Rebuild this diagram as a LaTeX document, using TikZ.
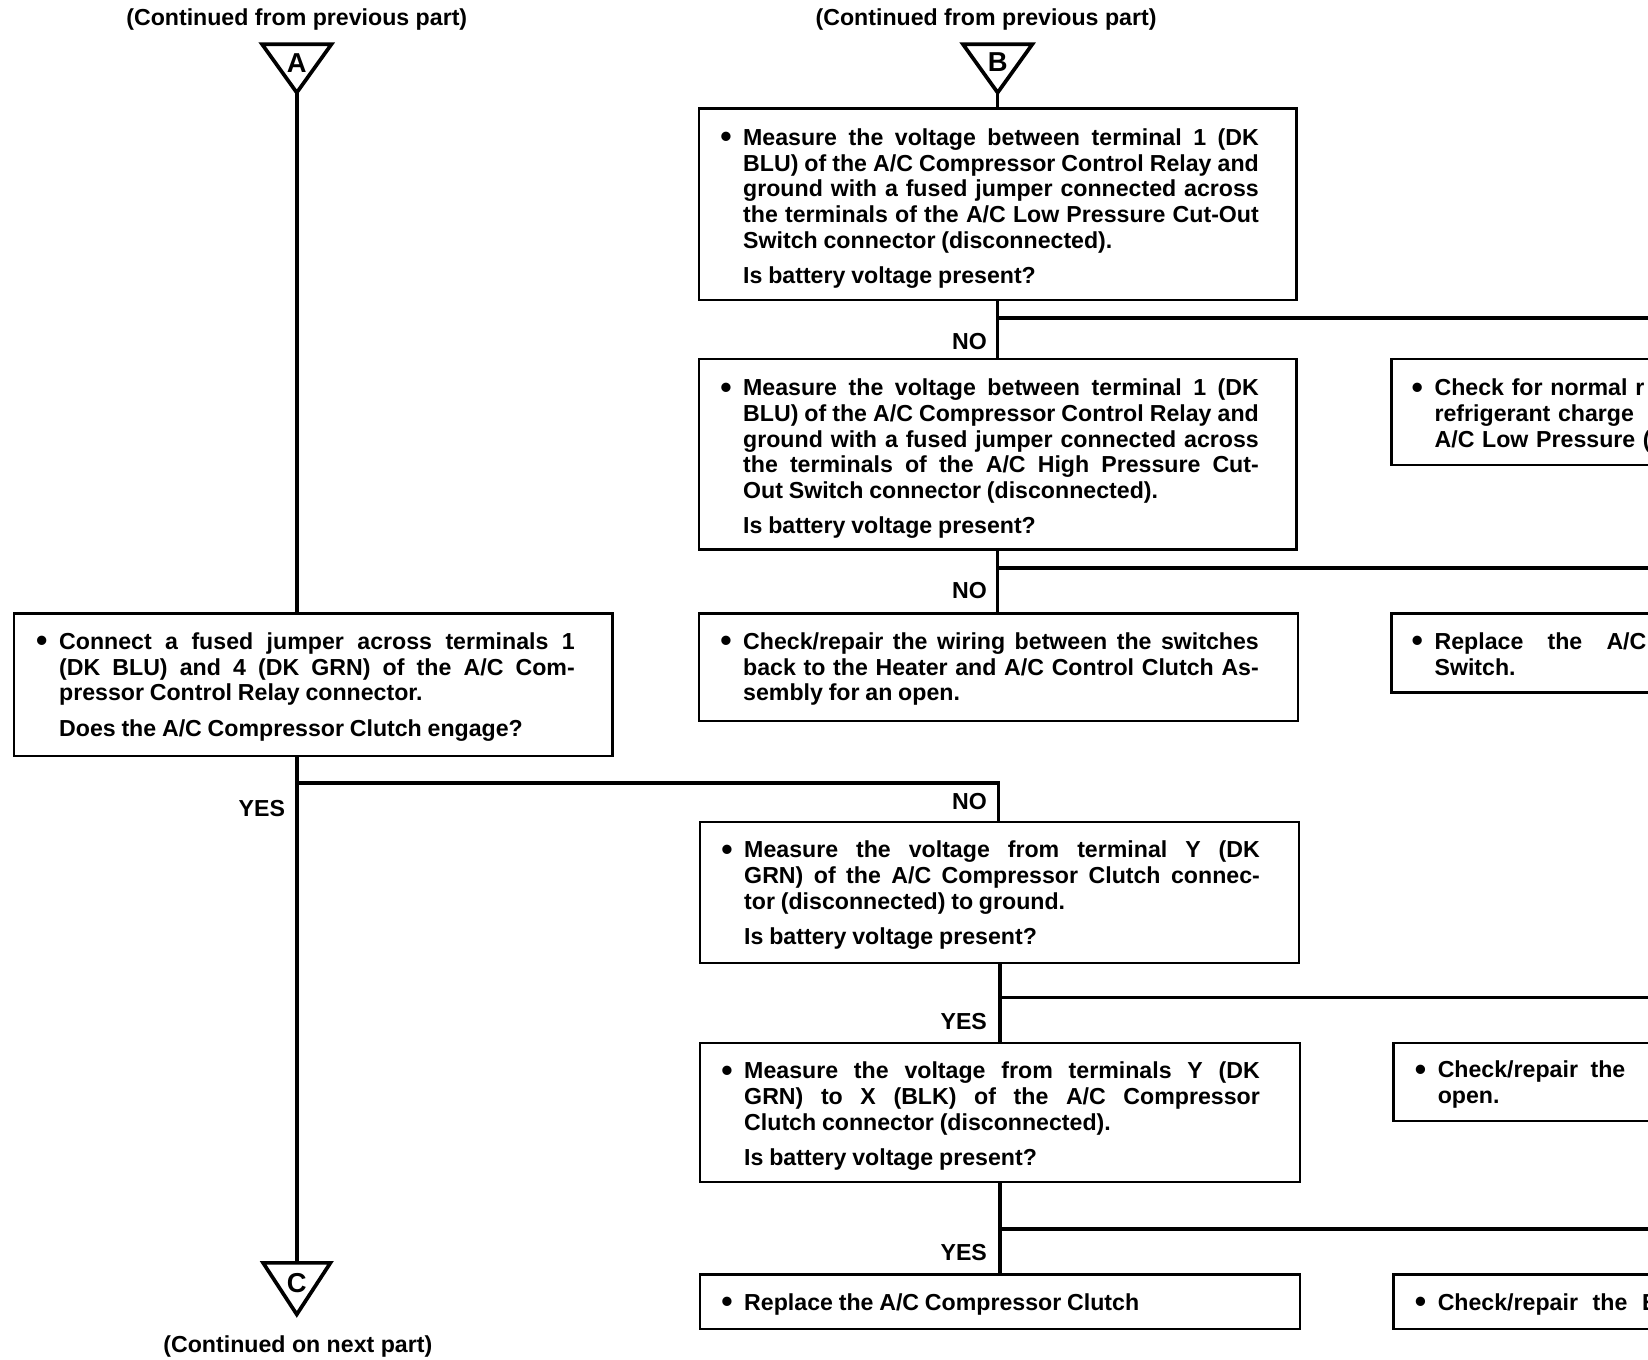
\documentclass[tikz,border=0pt]{standalone}
\usepackage{fontspec}
\usepackage{graphicx}
\setmainfont{Liberation Sans}
\newcommand\tf{\fontsize{22pt}{24.4pt}\selectfont\bfseries}
\newcommand\parset{\spaceskip=5.5pt plus 40pt minus 0.6pt\xspaceskip=\spaceskip\tolerance=10000\hbadness=10000\hfuzz=20pt\hyphenpenalty=10000\exhyphenpenalty=10000\parindent=0pt}
\newcommand\bul{\llap{\raisebox{-2.2pt}{\scalebox{1.4}{\textbullet}}\hspace{11pt}}\rule{0pt}{17pt}}
\newcommand\qgap{\par\vspace{9.2pt}}
\begin{document}
\begin{tikzpicture}[x=1pt,y=-1pt,
  box/.style={draw, line width=2.2pt, inner sep=0pt, anchor=north west},
  txt/.style={anchor=north west, inner sep=0pt, text width=490pt, align=justify, font=\tf\parset},
  rtxt/.style={anchor=north west, inner sep=0pt, text width=400pt, align=left, font=\tf\parset},
  lbl/.style={anchor=base east, inner sep=0pt, font=\tf},
  captxt/.style={anchor=base, inner sep=0pt, font=\tf},
  tri/.style={line width=3.5pt},
  conn/.style={line width=3.4pt},
  letter/.style={inner sep=0pt, font=\fontsize{26pt}{28pt}\selectfont\bfseries}]
\useasboundingbox (0,0) rectangle (1566,1292);
\fill[white] (0,0) rectangle (1566,1292);
\clip (0,0) rectangle (1566,1292);

% top / bottom captions
\node[captxt] (capA) at (282,24) {(Continued from previous part)};
\node[captxt] (capB) at (937,24) {(Continued from previous part)};
\node[captxt] (capC) at (283,1285) {(Continued on next part)};

% off-page connectors
\draw[tri] (249,42) -- (315,42) -- (282,88) -- cycle;
\node[letter] (lA) at (282,60) {A};
\draw[tri] (915,42) -- (981,42) -- (948,88) -- cycle;
\node[letter] (lB) at (948,59) {B};
\draw[tri] (250,1200) -- (314,1200) -- (282,1249) -- cycle;
\node[letter] (lC) at (282,1219) {C};
\coordinate (Aapex) at (282,88);
\coordinate (Bapex) at (948,88);
\coordinate (Ctop) at (282,1200);

% boxes
\node[box, minimum width=568pt, minimum height=182pt] (B1) at (663,102) {};
\node[box, minimum width=568pt, minimum height=181pt] (B2) at (663,340) {};
\node[box, minimum width=569pt, minimum height=102pt] (B3) at (663,582) {};
\node[box, minimum width=569pt, minimum height=135pt] (A1) at (12,582) {};
\node[box, minimum width=569pt, minimum height=134pt] (B4) at (664,780) {};
\node[box, minimum width=570pt, minimum height=132pt] (B5) at (664,990) {};
\node[box, minimum width=570pt, minimum height=52pt] (B6) at (664,1210) {};
\node[box, minimum width=300pt, minimum height=101pt] (R1) at (1321,340) {};
\node[box, minimum width=300pt, minimum height=75pt] (R2) at (1321,582) {};
\node[box, minimum width=300pt, minimum height=74pt] (R3) at (1323,990) {};
\node[box, minimum width=300pt, minimum height=52pt] (R4) at (1323,1210) {};

% texts
\node[txt] (tB1) at (706,121) {\bul Measure the voltage between terminal 1 (DK\linebreak
BLU) of the A/C Compressor Control Relay and\linebreak
ground with a fused jumper connected across\linebreak
the terminals of the A/C Low Pressure Cut-Out\linebreak
Switch connector (disconnected).\qgap
Is battery voltage present?};

\node[txt] (tB2) at (706,359) {\bul Measure the voltage between terminal 1 (DK\linebreak
BLU) of the A/C Compressor Control Relay and\linebreak
ground with a fused jumper connected across\linebreak
the terminals of the A/C High Pressure Cut-\linebreak
Out Switch connector (disconnected).\qgap
Is battery voltage present?};

\node[txt] (tB3) at (706,600) {\bul Check/repair the wiring between the switches\linebreak
back to the Heater and A/C Control Clutch As-\linebreak
sembly for an open.};

\node[txt] (tA1) at (56,600) {\bul Connect a fused jumper across terminals 1\linebreak
(DK BLU) and 4 (DK GRN) of the A/C Com-\linebreak
pressor Control Relay connector.\qgap
Does the A/C Compressor Clutch engage?};

\node[txt] (tB4) at (707,798) {\bul Measure the voltage from terminal Y (DK\linebreak
GRN) of the A/C Compressor Clutch connec-\linebreak
tor (disconnected) to ground.\qgap
Is battery voltage present?};

\node[txt] (tB5) at (707,1008) {\bul Measure the voltage from terminals Y (DK\linebreak
GRN) to X (BLK) of the A/C Compressor\linebreak
Clutch connector (disconnected).\qgap
Is battery voltage present?};

\node[txt] (tB6) at (707,1228) {\bul Replace the A/C Compressor Clutch};

\node[rtxt] (tR1) at (1363,359) {\bul Check for normal r\\refrigerant charge\\A/C Low Pressure (};
\node[rtxt] (tR2) at (1363,600) {\bul Replace\hspace{23pt}the\hspace{23pt}A/C\\Switch.};
\node[rtxt] (tR3) at (1366,1007) {\bul Check/repair\hspace{12pt}the\\open.};
\node[rtxt] (tR4) at (1366,1228) {\bul Check/repair\hspace{14pt}the\hspace{14pt}E};

% connectors, left column
\draw[conn] (Aapex) -- (Aapex |- A1.north);
\draw[conn] (Aapex |- A1.south) -- (Ctop);
\coordinate (J1) at (282,744);
\coordinate (J1r) at (949,744);
\draw[conn] (J1) -- (J1r) -- (J1r |- B4.north);
\node[lbl] (yes1) at (271,776) {YES};
\node[lbl] (no3) at (938,769) {NO};

% connectors, right column upper
\draw[conn] (Bapex) -- (Bapex |- B1.north);
\draw[conn] (Bapex |- B1.south) -- (Bapex |- B2.north);
\coordinate (E1) at (1600,302);
\draw[conn] (Bapex |- E1) -- (E1);
\node[lbl] (no1) at (938,332) {NO};
\draw[conn] (Bapex |- B2.south) -- (Bapex |- B3.north);
\coordinate (E2) at (1600,540);
\draw[conn] (Bapex |- E2) -- (E2);
\node[lbl] (no2) at (938,569) {NO};

% connectors, right column lower
\coordinate (colL) at (950,0);
\draw[conn] (colL |- B4.south) -- (colL |- B5.north);
\coordinate (E3) at (1600,948);
\draw[conn] (colL |- E3) -- (E3);
\node[lbl] (yes2) at (938,978) {YES};
\draw[conn] (colL |- B5.south) -- (colL |- B6.north);
\coordinate (E4) at (1600,1168);
\draw[conn] (colL |- E4) -- (E4);
\node[lbl] (yes3) at (938,1198) {YES};
\end{tikzpicture}
\end{document}
